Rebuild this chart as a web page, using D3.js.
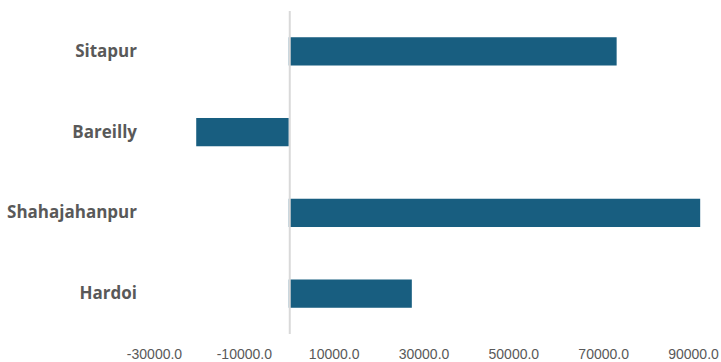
<!DOCTYPE html>
<html><head><meta charset="utf-8">
<script src="https://cdn.jsdelivr.net/npm/d3@7"></script>
<style>body{margin:0;background:#fff;}svg{display:block;}</style>
</head><body>
<svg id="chart" width="721" height="362"></svg>
<script>
const categories = ["Sitapur", "Bareilly", "Shahajahanpur", "Hardoi"];
const values = [73000, -20600, 91600, 27400];
const tickValues = [-30000, -10000, 10000, 30000, 50000, 70000, 90000];

const svg = d3.select("#chart");
const x = d3.scaleLinear().domain([-30000, 90000]).range([154, 693]);
const y = d3.scaleBand().domain(categories).range([11, 334]).paddingInner(0.65).paddingOuter(0.325);

svg.selectAll("rect.bar").data(categories).enter().append("rect")
  .attr("class", "bar")
  .attr("x", (d, i) => x(Math.min(0, values[i])))
  .attr("width", (d, i) => Math.abs(x(values[i]) - x(0)))
  .attr("y", d => y(d))
  .attr("height", y.bandwidth())
  .attr("fill", "#185e80");

svg.append("line")
  .attr("x1", x(0) + 1).attr("x2", x(0) + 1)
  .attr("y1", 11).attr("y2", 334)
  .attr("stroke", "#d9d9d9").attr("stroke-width", 2);

const fmt = d => d.toFixed(1);
const xAxis = svg.append("g").attr("transform", "translate(0,346)")
  .call(d3.axisBottom(x).tickValues(tickValues).tickFormat(fmt).tickSize(0));
xAxis.select(".domain").remove();
xAxis.selectAll("text").attr("font-family", "Liberation Sans, Arial, sans-serif")
  .attr("font-size", 14).attr("fill", "#595959");

const yAxis = svg.append("g").attr("transform", "translate(137,0)")
  .call(d3.axisLeft(y).tickSize(0).tickPadding(0));
yAxis.select(".domain").remove();
yAxis.selectAll("text").attr("font-family", "Open Sans, sans-serif")
  .attr("font-weight", "bold").attr("font-size", 17).attr("fill", "#595959");
</script>
</body></html>
